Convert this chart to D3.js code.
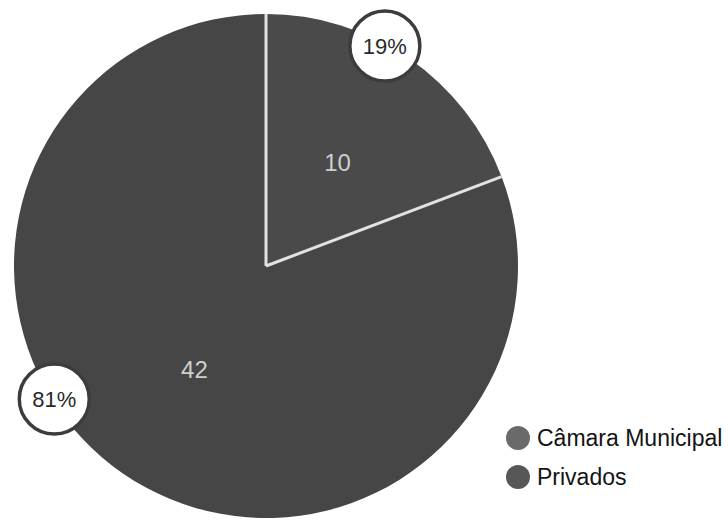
<!DOCTYPE html>
<html>
<head>
<meta charset="utf-8">
<script src="https://cdn.jsdelivr.net/npm/d3@7"></script>
<style>
  html, body { margin: 0; padding: 0; background: #fff; }
  svg { display: block; }
</style>
</head>
<body>
<svg id="chart" width="728" height="521"></svg>
<script>
// Owners of the properties and how many each holds
const categories = ["Câmara Municipal", "Privados"];
const counts = [10, 42];
const percentLabels = ["19%", "81%"];
const sliceColors = ["#4a4a4a", "#464646"];
const legendColors = ["#6a6a6a", "#575757"];

const cx = 266, cy = 266, R = 252;

const svg = d3.select("#chart");

const data = categories.map((c, i) => ({ name: c, value: counts[i], pct: percentLabels[i] }));

const pie = d3.pie().value(d => d.value).sort(null);
const arcs = pie(data);
const arc = d3.arc().innerRadius(0).outerRadius(R);
const valueArc = d3.arc().innerRadius(R * 0.5).outerRadius(R * 0.5);

const g = svg.append("g").attr("transform", `translate(${cx},${cy})`);

g.selectAll("path.slice")
  .data(arcs)
  .join("path")
  .attr("class", "slice")
  .attr("d", arc)
  .attr("fill", (d, i) => sliceColors[i]);

// separators between slices
g.selectAll("line.sep")
  .data(arcs)
  .join("line")
  .attr("class", "sep")
  .attr("x1", 0).attr("y1", 0)
  .attr("x2", d => R * Math.sin(d.startAngle))
  .attr("y2", d => -R * Math.cos(d.startAngle))
  .attr("stroke", "#e2e2e2")
  .attr("stroke-width", 3);

// counts inside each slice
g.selectAll("text.count")
  .data(arcs)
  .join("text")
  .attr("class", "count")
  .attr("transform", d => `translate(${valueArc.centroid(d)})`)
  .attr("text-anchor", "middle")
  .attr("dy", "0.36em")
  .attr("fill", "#cfcfcf")
  .attr("font-family", "Liberation Sans, Arial, sans-serif")
  .attr("font-size", 24)
  .text(d => d.data.value);

// percentage badges on the rim
const badgePos = [0.41, 0.58];
const badge = g.selectAll("g.badge")
  .data(arcs)
  .join("g")
  .attr("class", "badge")
  .attr("transform", (d, i) => {
    const a = d.startAngle + (d.endAngle - d.startAngle) * badgePos[i];
    const r = R - 2;
    return `translate(${r * Math.sin(a)},${-r * Math.cos(a)})`;
  });
badge.append("circle")
  .attr("r", 35)
  .attr("fill", "#fff")
  .attr("stroke", "#3c3c3c")
  .attr("stroke-width", 3.5);
badge.append("text")
  .attr("text-anchor", "middle")
  .attr("dy", "0.36em")
  .attr("fill", "#2a2a2a")
  .attr("font-family", "Liberation Sans, Arial, sans-serif")
  .attr("font-size", 22)
  .text(d => d.data.pct);

// legend
const legend = svg.append("g").attr("transform", "translate(518,438)");
const item = legend.selectAll("g")
  .data(data)
  .join("g")
  .attr("transform", (d, i) => `translate(0,${i * 39})`);
item.append("circle")
  .attr("r", 12)
  .attr("fill", (d, i) => legendColors[i]);
item.append("text")
  .attr("x", 19)
  .attr("dy", "0.36em")
  .attr("fill", "#141414")
  .attr("font-family", "Liberation Sans, Arial, sans-serif")
  .attr("font-size", 23)
  .text(d => d.name);
</script>
</body>
</html>
